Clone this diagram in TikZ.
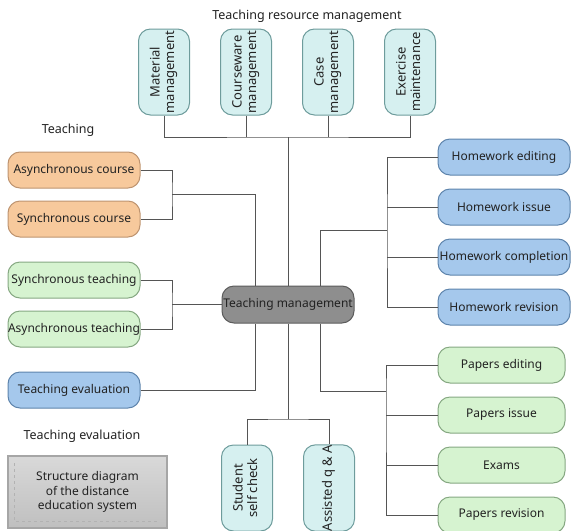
\documentclass[tikz,border=0pt]{standalone}
\usepackage{fontspec}
\setmainfont{Noto Sans}
\usepackage{graphicx}
\usetikzlibrary{positioning,calc}
\definecolor{Ink}{HTML}{222222}
\definecolor{Wire}{HTML}{555555}
\definecolor{Aqua}{HTML}{D6F0F0}
\definecolor{AquaLine}{HTML}{6E9C9C}
\definecolor{Peach}{HTML}{F7C99C}
\definecolor{PeachLine}{HTML}{BE9470}
\definecolor{Mint}{HTML}{D6F3D0}
\definecolor{MintLine}{HTML}{86A882}
\definecolor{Sky}{HTML}{A5C8EC}
\definecolor{SkyLine}{HTML}{5E84AC}
\definecolor{Stone}{HTML}{8E8E8E}
\definecolor{StoneLine}{HTML}{5C5C5C}
\newcommand{\vtext}[1]{\rotatebox{90}{\fontsize{13}{14.5}\selectfont\begin{tabular}{@{}c@{}}#1\end{tabular}}}
\tikzset{
  base/.style={rounded corners=12pt,line width=1pt,align=center,font=\fontsize{12}{13}\selectfont,text=Ink,inner sep=0pt},
  resbox/.style={base,draw=AquaLine,fill=Aqua,minimum width=51pt,minimum height=86pt},
  course/.style={base,draw=PeachLine,fill=Peach,minimum width=132pt,minimum height=36pt},
  teach/.style={base,draw=MintLine,fill=Mint,minimum width=132pt,minimum height=36pt},
  work/.style={base,draw=SkyLine,fill=Sky,minimum width=132pt,minimum height=36pt},
  paper/.style={base,draw=MintLine,fill=Mint,minimum width=127pt,minimum height=36pt},
  hub/.style={base,draw=StoneLine,fill=Stone,minimum width=132pt,minimum height=37pt},
  note/.style={draw=gray!70,line width=1.2pt,top color=gray!30,bottom color=gray!50,minimum width=159pt,minimum height=72pt,align=center,font=\fontsize{12}{14.5}\selectfont,text=Ink},
  caption/.style={font=\fontsize{12.5}{14}\selectfont,text=Ink},
  link/.style={draw=Wire,line width=1pt}
}
\begin{document}
\begin{tikzpicture}[x=1pt,y=-1pt,node distance=12pt]
  \useasboundingbox (0,0) rectangle (572,530);
  % resources on top
  \node[caption] (restitle) at (307,16) {Teaching resource management};
  \node[resbox] (mat) at (164,72) {\vtext{Material\\management}};
  \node[resbox] (cware) at (246,72) {\vtext{Courseware\\management}};
  \node[resbox] (case) at (328,72) {\vtext{Case\\management}};
  \node[resbox] (exer) at (410,72) {\vtext{Exercise\\maintenance}};
  % teaching side
  \node[caption] (teachtitle) at (68,130) {Teaching};
  \node[course] (acourse) at (74,170) {Asynchronous course};
  \node[course,below=of acourse] (scourse) {Synchronous course};
  \node[teach] (steach) at (74,280) {Synchronous teaching};
  \node[teach,below=of steach] (ateach) {Asynchronous teaching};
  \node[work] (teval) at (74,390) {Teaching evaluation};
  \node[caption] (evaltitle) at (82,436) {Teaching evaluation};
  \node[note] (sysname) at (87.5,492) {Structure diagram\\of the distance\\education system};
  \draw[gray!60,dashed,line width=0.8pt] ([shift={(7pt,-8pt)}]sysname.north west) |- ([shift={(-8pt,7pt)}]sysname.south east);
  % hub
  \node[hub] (main) at (288,304.5) {Teaching management};
  % homework
  \node[work] (hwedit) at (504,157) {Homework editing};
  \node[work,below=13pt of hwedit] (hwissue) {Homework issue};
  \node[work,below=13pt of hwissue] (hwdone) {Homework completion};
  \node[work,below=13pt of hwdone] (hwrev) {Homework revision};
  % papers
  \node[paper] (ppedit) at (501.5,365) {Papers editing};
  \node[paper,below=13pt of ppedit] (ppissue) {Papers issue};
  \node[paper,below=13pt of ppissue] (exams) {Exams};
  \node[paper,below=13pt of exams] (pprev) {Papers revision};
  % student side
  \node[resbox] (selfchk) at (247,488) {\vtext{Student\\self check}};
  \node[resbox] (askqa) at (329,488) {\vtext{Assisted q \& A}};

  % joins
  \coordinate (topbar) at (288,137);
  \coordinate (crsjoin) at (172,194);
  \coordinate (tchjoin) at (172,304.5);
  \coordinate (hwjoin) at (387,230);
  \coordinate (ppjoin) at (386,391);
  \coordinate (qajoin) at (288,419);

  \draw[link] (mat.south) |- (topbar) -| (exer.south);
  \draw[link] (cware.south) -- (cware.south |- topbar);
  \draw[link] (case.south) -- (case.south |- topbar);
  \draw[link] (topbar) -- (main.north);

  \draw[link] (acourse.east) -| (crsjoin) |- (scourse.east);
  \draw[link] (crsjoin) -| ([xshift=-33pt]main.north);
  \draw[link] (steach.east) -| (tchjoin) |- (ateach.east);
  \draw[link] (tchjoin) -- (main.west);
  \draw[link] (teval.east) -| ([xshift=-33pt]main.south);

  \draw[link] (hwedit.west) -| (hwjoin) |- (hwrev.west);
  \draw[link] (hwissue.west) -- (hwissue.west -| hwjoin);
  \draw[link] (hwdone.west) -- (hwdone.west -| hwjoin);
  \draw[link] ([xshift=32pt]main.north) |- (hwjoin);

  \draw[link] (ppedit.west) -| (ppjoin) |- (pprev.west);
  \draw[link] (ppissue.west) -- (ppissue.west -| ppjoin);
  \draw[link] (exams.west) -- (exams.west -| ppjoin);
  \draw[link] ([xshift=32pt]main.south) |- (ppjoin);

  \draw[link] (main.south) -- (qajoin);
  \draw[link] (selfchk.north) |- (qajoin) -| (askqa.north);
\end{tikzpicture}
\end{document}
